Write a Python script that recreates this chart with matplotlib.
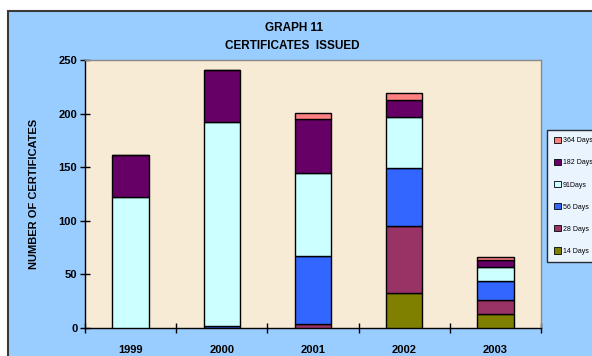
import matplotlib
matplotlib.use("Agg")
import matplotlib.pyplot as plt
from matplotlib.patches import Rectangle, Patch
import numpy as np

years = ["1999", "2000", "2001", "2002", "2003"]
series_names = ["14 Days", "28 Days", "56 Days", "91Days", "182 Days", "364 Days"]
days_14 = [0, 0, 0, 33, 13]
days_28 = [0, 0, 4, 62, 13]
days_56 = [0, 2, 63, 54, 18]
days_91 = [122, 190, 78, 48, 13]
days_182 = [39, 49, 50, 16, 6]
days_364 = [0, 0, 6, 6, 3]
series_colors = ["#808000", "#993366", "#3366FF", "#CCFFFF", "#660066", "#FF8080"]
y_ticks = [0, 50, 100, 150, 200, 250]

plt.rcParams["font.family"] = ["Liberation Sans", "DejaVu Sans"]

W, H = 592, 356
fig = plt.figure(figsize=(W / 100, H / 100), dpi=100)
fig.patch.set_facecolor("white")

# light blue chart frame
frame = Rectangle((8 / W, -0.2), 1.2, 1 - 11 / H + 0.2, transform=fig.transFigure,
                  facecolor="#99CCFF", edgecolor="#3a3a3a", linewidth=1.5, zorder=-10)
fig.patches.append(frame)

ax = fig.add_axes([85 / W, 1 - 328 / H, (541 - 85) / W, (328 - 60) / H])
ax.set_zorder(1)
ax.set_facecolor("#F8EBD5")

series = [days_14, days_28, days_56, days_91, days_182, days_364]
x = np.arange(len(years))
bottom = np.zeros(len(years))
for vals, col in zip(series, series_colors):
    v = np.array(vals, dtype=float)
    ax.bar(x, v, width=0.4, bottom=bottom, color=col, edgecolor="black",
           linewidth=1.0, zorder=3)
    bottom += v

ax.set_xlim(-0.5, len(years) - 0.5)
ax.set_ylim(0, 250)
ax.set_yticks(y_ticks)
ax.set_yticklabels([str(t) for t in y_ticks], fontsize=8, fontweight="bold")
ax.set_xticks(x)
ax.set_xticklabels(years, fontsize=8, fontweight="bold")
ax.tick_params(axis="x", length=0, pad=12)
ax.set_xticks(np.arange(len(years) + 1) - 0.5, minor=True)
ax.tick_params(axis="x", which="minor", direction="inout", length=7, width=1, color="black")
ax.tick_params(axis="y", direction="inout", length=7, width=1, color="black", pad=2)

for s in ["left", "bottom"]:
    ax.spines[s].set_color("black")
    ax.spines[s].set_linewidth(1.0)
for s in ["top", "right"]:
    ax.spines[s].set_color("#8a8a8a")
    ax.spines[s].set_linewidth(1.0)

ax.set_ylabel("NUMBER OF CERTIFICATES", fontsize=8, fontweight="bold", labelpad=14)

fig.text(294 / W, 1 - 28 / H, "GRAPH 11", ha="center", va="center",
         fontsize=8.5, fontweight="bold")
fig.text(292 / W, 1 - 46 / H, "CERTIFICATES  ISSUED", ha="center", va="center",
         fontsize=8.5, fontweight="bold")

handles = [Patch(facecolor=c, edgecolor="black", linewidth=0.6) for c in series_colors]
leg = fig.legend(handles[::-1], series_names[::-1], loc="upper left",
                 bbox_to_anchor=(547 / W, 1 - 130 / H), fontsize=5,
                 frameon=True, fancybox=False, shadow=False,
                 handlelength=1.0, handleheight=1.0, handletextpad=0.25,
                 labelspacing=2.1, borderpad=1.0, borderaxespad=0)
leg.get_frame().set_edgecolor("black")
leg.get_frame().set_linewidth(1.0)
leg.get_frame().set_facecolor("white")

fig.savefig("out.png", dpi=100, facecolor=fig.get_facecolor())
